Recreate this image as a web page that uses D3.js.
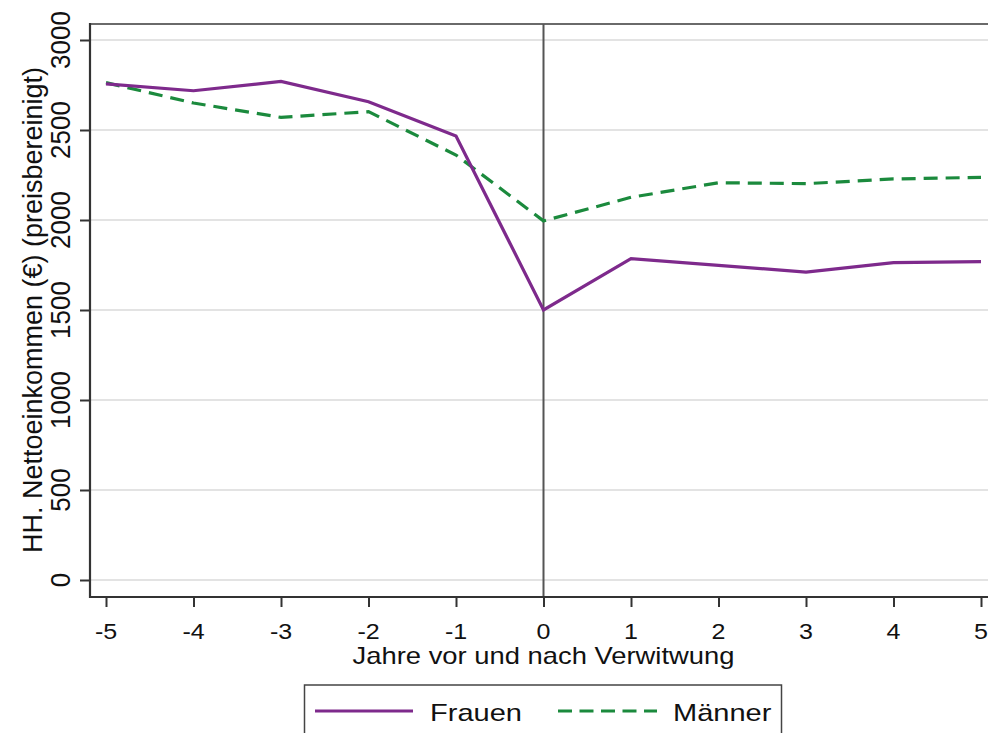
<!DOCTYPE html>
<html>
<head>
<meta charset="utf-8">
<script src="https://cdn.jsdelivr.net/npm/d3@7"></script>
<style>
  html, body { margin: 0; padding: 0; background: #fff; }
  svg { display: block; font-family: "Liberation Sans", Arial, sans-serif; }
</style>
</head>
<body>
<svg id="chart" width="988" height="733"></svg>
<script>
const years = [-5, -4, -3, -2, -1, 0, 1, 2, 3, 4, 5];
const frauen = [2756, 2718, 2770, 2657, 2467, 1500, 1785, 1748, 1711, 1763, 1769];
const maenner = [2763, 2650, 2570, 2602, 2361, 1995, 2126, 2207, 2202, 2228, 2237];
const yTicks = [0, 500, 1000, 1500, 2000, 2500, 3000];
const seriesNames = ["Frauen", "Männer"];
const seriesColors = ["#7E2A8C", "#1B8A3D"];

(function () {
const svg = d3.select("#chart");
const SX = 1.17;
const x = d3.scaleLinear().domain([-5, 5]).range([106, 981]);
const y = d3.scaleLinear().domain([0, 3000]).range([580, 40]);
const pL = 90, pT = 24, pB = 597, pR = 988;

// gridlines
svg.append("g").selectAll("line").data(yTicks).join("line")
  .attr("x1", pL).attr("x2", pR)
  .attr("y1", d => y(d)).attr("y2", d => y(d))
  .attr("stroke", "#e3e3e3").attr("stroke-width", 2);

// top frame
svg.append("line").attr("x1", pL).attr("x2", pR).attr("y1", pT).attr("y2", pT)
  .attr("stroke", "#6a6a6a").attr("stroke-width", 2);

// vertical line at 0
svg.append("line").attr("x1", x(0)).attr("x2", x(0)).attr("y1", pT).attr("y2", pB)
  .attr("stroke", "#555").attr("stroke-width", 2);

// y axis
const yAxis = d3.axisLeft(y).tickValues(yTicks).tickSize(10).tickFormat("");
const gy = svg.append("g").attr("transform", `translate(${pL},0)`).call(yAxis);
gy.select(".domain").remove();
gy.selectAll(".tick line").attr("stroke", "#333").attr("stroke-width", 2);
svg.append("line").attr("x1", pL).attr("x2", pL).attr("y1", pT - 1).attr("y2", pB + 1)
  .attr("stroke", "#333").attr("stroke-width", 2.2);
svg.append("g").selectAll("text").data(yTicks).join("text")
  .attr("transform", d => `translate(70,${y(d)}) scale(1.05,1) rotate(-90)`)
  .attr("text-anchor", "middle").attr("font-size", 26).attr("fill", "#111")
  .text(d => d);

// x axis
const xAxis = d3.axisBottom(x).tickValues(years).tickSize(10).tickFormat("");
const gx = svg.append("g").attr("transform", `translate(0,${pB})`).call(xAxis);
gx.select(".domain").remove();
gx.selectAll(".tick line").attr("stroke", "#333").attr("stroke-width", 2);
svg.append("line").attr("x1", pL - 1).attr("x2", pR).attr("y1", pB).attr("y2", pB)
  .attr("stroke", "#333").attr("stroke-width", 2.2);
svg.append("g").selectAll("text").data(years).join("text")
  .attr("transform", d => `translate(${x(d)},639) scale(${SX},1)`)
  .attr("text-anchor", "middle").attr("font-size", 21.4).attr("fill", "#111")
  .text(d => d);

// axis titles
svg.append("text")
  .attr("transform", `translate(${(x(-5) + x(5)) / 2},664) scale(${SX},1)`)
  .attr("text-anchor", "middle").attr("font-size", 23.4).attr("fill", "#111")
  .text("Jahre vor und nach Verwitwung");
svg.append("text")
  .attr("transform", `translate(42,310) rotate(-90)`)
  .attr("text-anchor", "middle").attr("font-size", 27).attr("fill", "#111")
  .text("HH. Nettoeinkommen (€) (preisbereinigt)");

// lines
const line = d3.line().x((d, i) => x(years[i])).y(d => y(d));
svg.append("path").datum(maenner).attr("d", line)
  .attr("fill", "none").attr("stroke", seriesColors[1]).attr("stroke-width", 3.2)
  .attr("stroke-dasharray", "14,8");
svg.append("path").datum(frauen).attr("d", line)
  .attr("fill", "none").attr("stroke", seriesColors[0]).attr("stroke-width", 3.2);

// legend
const lg = svg.append("g");
lg.append("rect").attr("x", 304.5).attr("y", 685).attr("width", 477).attr("height", 60)
  .attr("fill", "#fff").attr("stroke", "#444").attr("stroke-width", 1.5);
const legendItems = [
  { name: seriesNames[0], color: seriesColors[0], dash: null, x1: 315, x2: 413, tx: 430 },
  { name: seriesNames[1], color: seriesColors[1], dash: "14,7.5", x1: 558, x2: 657, tx: 673 }
];
legendItems.forEach(it => {
  lg.append("line").attr("x1", it.x1).attr("x2", it.x2).attr("y1", 711).attr("y2", 711)
    .attr("stroke", it.color).attr("stroke-width", 3.2)
    .attr("stroke-dasharray", it.dash);
  lg.append("text").attr("transform", `translate(${it.tx},721) scale(${SX},1)`)
    .attr("font-size", 24.8).attr("fill", "#111").text(it.name);
});
})();
</script>
</body>
</html>
